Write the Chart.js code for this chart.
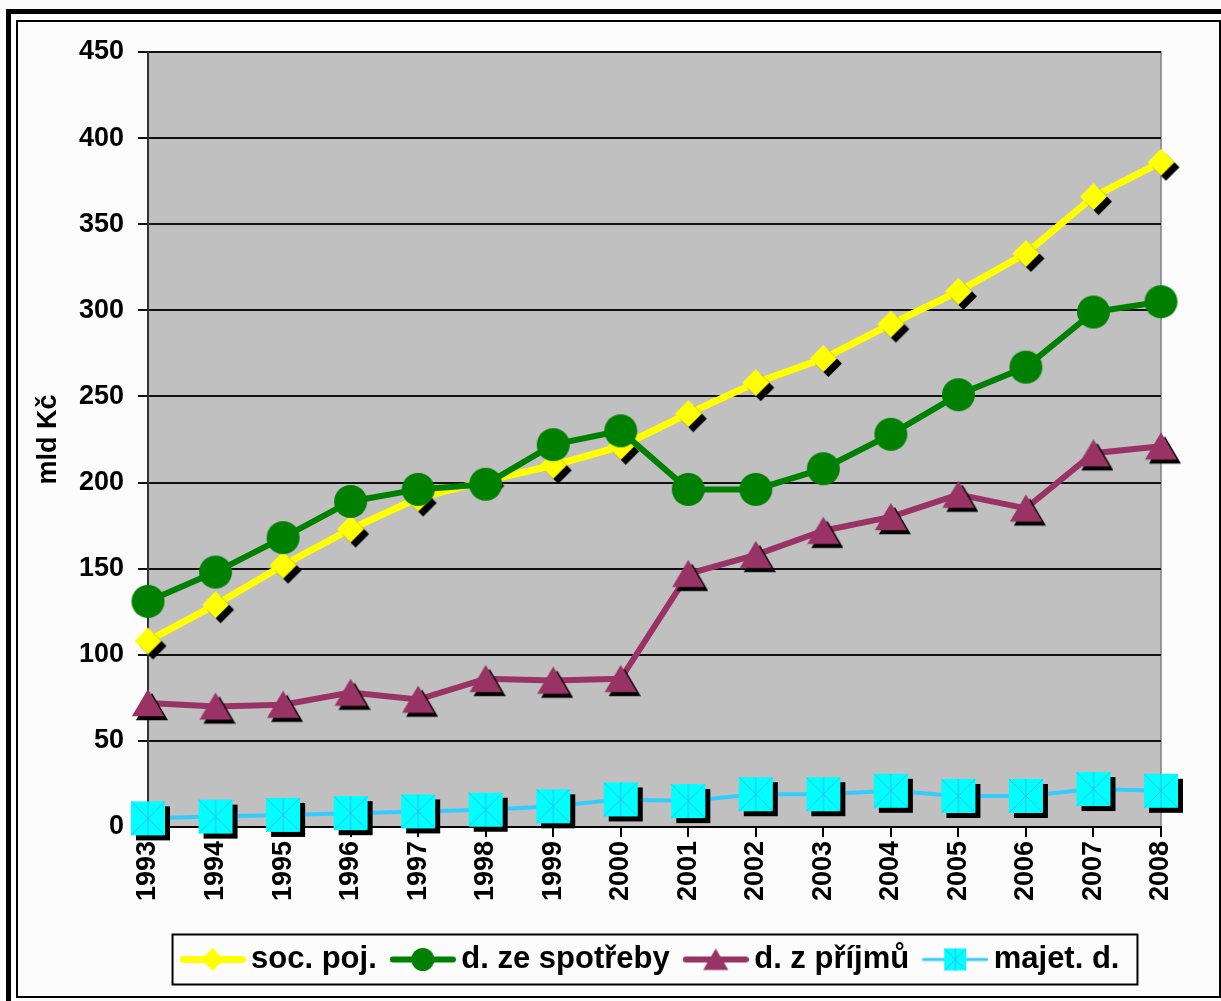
<!DOCTYPE html>
<html>
<head>
<meta charset="utf-8">
<script src="https://cdn.jsdelivr.net/npm/chart.js@4.4.1/dist/chart.umd.min.js"></script>
<style>
  html, body { margin: 0; padding: 0; background: #fcfcfc; }
  canvas { display: block; }
</style>
</head>
<body>
<canvas id="myChart" width="1221" height="1001"></canvas>
<script>
// data (mld Kč)
const years = ['1993', '1994', '1995', '1996', '1997', '1998', '1999', '2000',
               '2001', '2002', '2003', '2004', '2005', '2006', '2007', '2008'];
const socPoj   = [108, 129, 152, 173, 191, 201, 210, 221, 240, 258, 272, 292, 311, 333, 366, 386];
const spotreba = [131, 148, 168, 189, 196, 199, 222, 230, 196, 196, 208, 228, 251, 267, 299, 305];
const prijmy   = [72, 70, 71, 78, 74, 86, 85, 86, 147, 158, 172, 180, 193, 185, 217, 221];
const majetek  = [5, 6, 7, 8, 9, 10, 12, 16, 15, 19, 19, 21, 18, 18, 22, 21];
const seriesNames = ['soc. poj.', 'd. ze spotřeby', 'd. z příjmů', 'majet. d.'];
const yTicks = [0, 50, 100, 150, 200, 250, 300, 350, 400, 450];

const FONT = "'Liberation Sans', Arial, sans-serif";

// marker images (optionally with a line through them for the legend)
function marker(shape, r, fill, o) {
  o = o || {};
  const off = o.shadow || 0;
  const h = Math.ceil(2 * (r + off + 2));
  const w = Math.max(h, o.line || 0);
  const c = document.createElement('canvas');
  c.width = w; c.height = h;
  const g = c.getContext('2d');
  const cx = w / 2, cy = h / 2;
  if (o.line) {
    g.strokeStyle = o.lineColor;
    g.lineWidth = o.lineWidth;
    g.lineCap = 'round';
    g.beginPath();
    g.moveTo(o.lineWidth / 2, cy);
    g.lineTo(w - o.lineWidth / 2, cy);
    g.stroke();
  }
  const path = (x, y) => {
    g.beginPath();
    if (shape === 'diamond') {
      g.moveTo(x, y - r); g.lineTo(x + r, y); g.lineTo(x, y + r); g.lineTo(x - r, y);
    } else if (shape === 'circle') {
      g.arc(x, y, r, 0, Math.PI * 2);
    } else if (shape === 'triangle') {
      g.moveTo(x, y - r); g.lineTo(x + r * 1.15, y + r * 0.95); g.lineTo(x - r * 1.15, y + r * 0.95);
    } else {
      g.rect(x - r, y - r, 2 * r, 2 * r);
    }
    g.closePath();
  };
  if (off) {
    g.fillStyle = '#000';
    path(cx + off, cy + off);
    g.fill();
  }
  g.fillStyle = fill;
  path(cx, cy);
  g.fill();
  if (shape === 'square') {
    g.strokeStyle = '#33bbee';
    g.lineWidth = 1;
    g.beginPath();
    g.moveTo(cx - r, cy - r); g.lineTo(cx + r, cy + r);
    g.moveTo(cx + r, cy - r); g.lineTo(cx - r, cy + r);
    g.moveTo(cx, cy - r); g.lineTo(cx, cy + r);
    g.stroke();
  }
  return c;
}

const colors = ['#ffff00', '#008000', '#993366', '#00ffff'];
const lineColors = ['#ffff00', '#008000', '#993366', '#33ccff'];
const lineWidths = [7, 6, 6, 4];

const pointImgs = [
  marker('diamond', 13.5, colors[0], { shadow: 5 }),
  marker('circle', 16.5, colors[1]),
  marker('triangle', 14, colors[2], { shadow: 4 }),
  marker('square', 17, colors[3], { shadow: 5 })
];
const legendImgs = [
  marker('diamond', 11.5, colors[0], { line: 66, lineColor: lineColors[0], lineWidth: 7 }),
  marker('circle', 11.5, colors[1], { line: 66, lineColor: lineColors[1], lineWidth: 6 }),
  marker('triangle', 11, colors[2], { line: 66, lineColor: lineColors[2], lineWidth: 6 }),
  marker('square', 11, colors[3], { line: 66, lineColor: lineColors[3], lineWidth: 3 })
];

const bgPlugin = {
  id: 'bg',
  beforeDraw(chart) {
    const { ctx, chartArea: a } = chart;
    ctx.save();
    ctx.fillStyle = '#fcfcfc';
    ctx.fillRect(0, 0, chart.width, chart.height);
    ctx.fillStyle = '#c0c0c0';
    ctx.fillRect(a.left, a.top, a.right - a.left, a.bottom - a.top);
    ctx.strokeStyle = '#808080';
    ctx.lineWidth = 1.5;
    ctx.strokeRect(a.left, a.top, a.right - a.left, a.bottom - a.top);
    ctx.restore();
  },
  afterDraw(chart) {
    const ctx = chart.ctx;
    ctx.save();
    // legend box
    const hb = chart.legend.legendHitBoxes;
    if (hb && hb.length) {
      const first = hb[0], last = hb[hb.length - 1];
      const l = first.left - 17, r = last.left + last.width + 18;
      const t = first.top + first.height / 2 - 25, b = t + 50;
      ctx.strokeStyle = '#000';
      ctx.lineWidth = 2;
      ctx.strokeRect(l, t, r - l, b - t);
    }
    // outer frame
    ctx.fillStyle = '#000';
    ctx.fillRect(6, 9, 1221, 5);
    ctx.fillRect(6, 9, 5, 1001);
    ctx.strokeStyle = '#000';
    ctx.lineWidth = 2;
    ctx.strokeRect(17, 21, 1203, 976);
    ctx.restore();
  }
};

const tickFont = { family: FONT, size: 27, weight: 'bold' };

new Chart(document.getElementById('myChart'), {
  type: 'line',
  data: {
    labels: years,
    datasets: [socPoj, spotreba, prijmy, majetek].map((vals, i) => ({
      label: seriesNames[i],
      data: vals,
      borderColor: lineColors[i],
      backgroundColor: colors[i],
      borderWidth: lineWidths[i],
      pointStyle: pointImgs[i],
      pointRadius: 14,
      pointHoverRadius: 14,
      tension: 0,
      clip: false,
      order: 3 - i
    }))
  },
  options: {
    responsive: false,
    animation: false,
    layout: { padding: { left: 30, right: 60, top: 52, bottom: 16 } },
    scales: {
      x: {
        offset: false,
        grid: { drawOnChartArea: false, drawTicks: true, tickLength: 10, color: '#000', lineWidth: 2 },
        border: { color: '#000', width: 2 },
        ticks: { minRotation: 90, maxRotation: 90, autoSkip: false, padding: 4, color: '#000', font: tickFont },
        afterFit(s) { s.height += 16; }
      },
      y: {
        min: 0,
        max: 450,
        afterBuildTicks(s) { s.ticks = yTicks.map(v => ({ value: v })); },
        grid: { color: '#111', lineWidth: 2, tickLength: 10 },
        border: { color: '#333', width: 2 },
        ticks: { padding: 14, color: '#000', font: tickFont },
        title: { display: true, text: 'mld Kč', color: '#000', font: { family: FONT, size: 27, weight: 'bold' }, padding: 2 },
        afterFit(s) { s.width = 118; }
      }
    },
    plugins: {
      tooltip: { enabled: false },
      legend: {
        position: 'bottom',
        fullSize: false,
        labels: {
          usePointStyle: true,
          pointStyleWidth: 46,
          padding: 23,
          color: '#000',
          font: { family: FONT, size: 31, weight: 'bold' },
          generateLabels(chart) {
            return chart.data.datasets.map((ds, i) => ({
              text: ds.label,
              pointStyle: legendImgs[i],
              datasetIndex: i,
              fillStyle: 'rgba(0,0,0,0)',
              strokeStyle: 'rgba(0,0,0,0)',
              lineWidth: 0,
              hidden: false,
              fontColor: '#000'
            }));
          }
        }
      }
    }
  },
  plugins: [bgPlugin]
});
</script>
</body>
</html>
